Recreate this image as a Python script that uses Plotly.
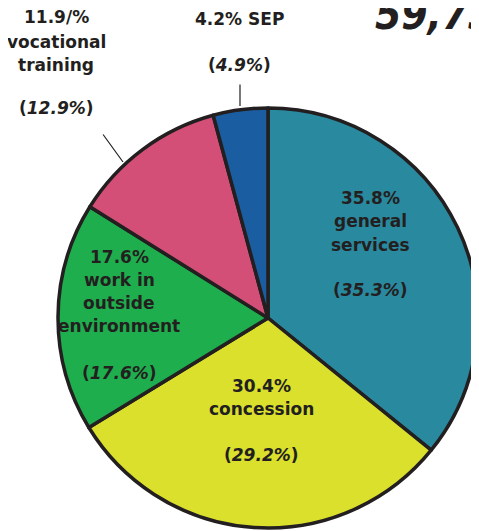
import plotly.graph_objects as go

# slice data, clockwise from 12 o'clock
categories = ['general services', 'concession', 'work in outside environment', 'vocational training', 'SEP']
shares = [35.8, 30.4, 17.6, 11.9, 4.2]
prev_shares = [35.3, 29.2, 17.6, 12.9, 4.9]
colors = ['#29899f', '#dae02c', '#1fae4d', '#d44f78', '#1a5ea1']

ink = '#231f20'
font = 'DejaVu Sans'
W, H = 479, 531
OFF = 8  # page body margin in the browser


def px2x(px):
    return (px - OFF) / W


def py2y(py):
    return 1 - (py - OFF) / H


fig = go.Figure()

fig.add_trace(go.Pie(
    labels=categories,
    values=shares,
    sort=False,
    direction='clockwise',
    rotation=0,
    marker=dict(colors=colors, line=dict(color=ink, width=3.5)),
    textinfo='none',
    hoverinfo='label+value',
    showlegend=False,
    domain=dict(x=[0.1044, 0.9812], y=[0.0207, 0.8117]),
))

def fmt(v):
    return f'{v:.1f}%'

# each label block: centre x, then (line text, centre y) pairs
blocks = [
    (370, [(f'{fmt(shares[0])}', 198), ('general', 221), ('services', 245),
           (f'(<i>{fmt(prev_shares[0])}</i>)', 290)]),
    (261, [(f'{fmt(shares[1])}', 386), ('concession', 409),
           (f'(<i>{fmt(prev_shares[1])}</i>)', 455)]),
    (119, [(f'{fmt(shares[2])}', 257), ('work in', 280), ('outside', 303),
           ('environment', 326), (f'(<i>{fmt(prev_shares[2])}</i>)', 373)]),
    (56, [(f'{shares[3]:.1f}/%', 17), ('vocational', 42), ('training', 65),
          (f'(<i>{fmt(prev_shares[3])}</i>)', 108)]),
    (239, [(f'{fmt(shares[4])} SEP', 19), (f'(<i>{fmt(prev_shares[4])}</i>)', 65)]),
]

for px, lines in blocks:
    for text, py in lines:
        fig.add_annotation(
            text=f'<b>{text}</b>', x=px2x(px), y=py2y(py),
            xref='paper', yref='paper', xanchor='center', yanchor='middle',
            showarrow=False, font=dict(family=font, size=17, color=ink),
        )

# leader lines for the two small slices
fig.add_annotation(x=px2x(240), y=py2y(106), xref='paper', yref='paper',
                   ax=0, ay=-23, showarrow=True, arrowhead=0, arrowwidth=1.2,
                   arrowcolor=ink, text='')
fig.add_annotation(x=px2x(123), y=py2y(162), xref='paper', yref='paper',
                   ax=-21, ay=-29, showarrow=True, arrowhead=0, arrowwidth=1.2,
                   arrowcolor=ink, text='')

# cropped headline figure in the top right corner
fig.add_annotation(text='<b><i>59,735</i></b>', x=px2x(373), y=py2y(41),
                   xref='paper', yref='paper', xanchor='left', yanchor='bottom',
                   showarrow=False,
                   font=dict(family='DejaVu Sans Condensed', size=42, color=ink))

fig.update_layout(
    width=W, height=H,
    margin=dict(l=0, r=0, t=0, b=0),
    paper_bgcolor='white',
    plot_bgcolor='white',
)

fig.write_html('out.html')
